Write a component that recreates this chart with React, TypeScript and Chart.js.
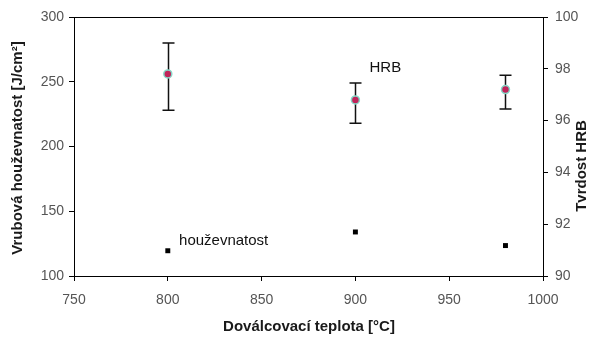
import React, { useEffect, useRef } from "react";
import { Chart, registerables } from "chart.js";

Chart.register(...registerables);

// Finishing (rolling end) temperature, °C
const temperatures = [800, 900, 980];
// Notch toughness, J/cm² (left axis)
const toughness = [119.5, 134, 123.5];
// Hardness HRB (right axis): mean with min / max
const hrbMean = [97.8, 96.8, 97.2];
const hrbLow = [96.4, 95.9, 96.45];
const hrbHigh = [99.0, 97.45, 97.75];

const xTicks = { min: 750, max: 1000, step: 50 };
const yTicks = { min: 100, max: 300, step: 50 };
const y1Ticks = { min: 90, max: 100, step: 2 };

const FONT = "'Liberation Sans', Arial, sans-serif";

const errorBars = {
  id: "errorBars",
  beforeDatasetsDraw(chart: any) {
    const { ctx } = chart;
    const x = chart.scales.x;
    const y1 = chart.scales.y1;
    ctx.save();
    ctx.strokeStyle = "#111";
    ctx.lineWidth = 1.5;
    temperatures.forEach((t, i) => {
      const px = Math.round(x.getPixelForValue(t)) + 0.5;
      const top = y1.getPixelForValue(hrbHigh[i]);
      const bot = y1.getPixelForValue(hrbLow[i]);
      ctx.beginPath();
      ctx.moveTo(px, top);
      ctx.lineTo(px, bot);
      ctx.moveTo(px - 6, top);
      ctx.lineTo(px + 6, top);
      ctx.moveTo(px - 6, bot);
      ctx.lineTo(px + 6, bot);
      ctx.stroke();
    });
    ctx.restore();
  },
};

const frameAndText = {
  id: "frameAndText",
  afterDraw(chart: any) {
    const { ctx, chartArea: a } = chart;
    ctx.save();
    // top edge of the plot frame
    ctx.strokeStyle = "#000";
    ctx.lineWidth = 1;
    ctx.beginPath();
    ctx.moveTo(a.left, Math.round(a.top) + 0.5);
    ctx.lineTo(a.right + 5, Math.round(a.top) + 0.5);
    ctx.stroke();

    // axis titles
    ctx.fillStyle = "#1a1a1a";
    ctx.font = `bold 15px ${FONT}`;
    ctx.textAlign = "center";
    ctx.textBaseline = "middle";
    ctx.fillText("Doválcovací teplota [°C]", 309, 327);

    ctx.save();
    ctx.translate(18, 148);
    ctx.rotate(-Math.PI / 2);
    ctx.fillText("Vrubová houževnatost [J/cm²]", 0, 0);
    ctx.restore();

    ctx.save();
    ctx.translate(582, 166);
    ctx.rotate(-Math.PI / 2);
    ctx.fillText("Tvrdost HRB", 0, 0);
    ctx.restore();

    // series labels
    ctx.font = `15px ${FONT}`;
    ctx.fillStyle = "#111";
    ctx.textAlign = "left";
    const x = chart.scales.x;
    ctx.fillText("HRB", x.getPixelForValue(907.5), chart.scales.y1.getPixelForValue(98.05));
    ctx.fillText("houževnatost", x.getPixelForValue(806), chart.scales.y.getPixelForValue(127));
    ctx.restore();
  },
};

export default function App() {
  const ref = useRef<HTMLCanvasElement>(null);

  useEffect(() => {
    document.body.style.margin = "0";
    const canvas = ref.current!;
    const tickFont = { family: FONT, size: 14 };
    const plain = (v: any) => String(v);
    const chart = new Chart(canvas, {
      type: "scatter",
      data: {
        datasets: [
          {
            label: "houževnatost",
            data: temperatures.map((t, i) => ({ x: t, y: toughness[i] })),
            yAxisID: "y",
            pointStyle: "rect",
            pointRadius: 3.5,
            backgroundColor: "#000",
            borderColor: "#000",
            borderWidth: 0,
          },
          {
            label: "HRB",
            data: temperatures.map((t, i) => ({ x: t, y: hrbMean[i] })),
            yAxisID: "y1",
            pointStyle: "circle",
            pointRadius: 4,
            backgroundColor: "#c0245a",
            borderColor: "#86d8c8",
            borderWidth: 1.5,
          },
        ],
      },
      options: {
        animation: false,
        responsive: false,
        devicePixelRatio: 1,
        layout: { padding: { top: 17, left: 0, right: 0, bottom: 0 } },
        plugins: { legend: { display: false }, tooltip: { enabled: false } },
        scales: {
          x: {
            type: "linear",
            min: xTicks.min,
            max: xTicks.max,
            afterFit: (s: any) => {
              s.height = 62;
            },
            ticks: { stepSize: xTicks.step, color: "#555", font: tickFont, padding: 11, maxRotation: 0, callback: plain },
            grid: { drawOnChartArea: false, drawTicks: true, tickLength: 5, color: "#000" },
            border: { display: true, color: "#000", width: 1 },
          },
          y: {
            type: "linear",
            position: "left",
            min: yTicks.min,
            max: yTicks.max,
            afterFit: (s: any) => {
              s.width = 74;
            },
            ticks: { stepSize: yTicks.step, color: "#555", font: tickFont, padding: 5, callback: plain },
            grid: { drawOnChartArea: false, drawTicks: true, tickLength: 5, color: "#000" },
            border: { display: true, color: "#000", width: 1 },
          },
          y1: {
            type: "linear",
            position: "right",
            min: y1Ticks.min,
            max: y1Ticks.max,
            afterFit: (s: any) => {
              s.width = 55;
            },
            ticks: { stepSize: y1Ticks.step, color: "#555", font: tickFont, padding: 7, callback: plain },
            grid: { drawOnChartArea: false, drawTicks: true, tickLength: 5, color: "#000" },
            border: { display: true, color: "#000", width: 1 },
          },
        },
      },
      plugins: [errorBars, frameAndText],
    });
    return () => chart.destroy();
  }, []);

  return (
    <div style={{ position: "absolute", left: 0, top: 0, width: 598, height: 338, background: "#fff" }}>
      <canvas ref={ref} width={598} height={338} />
    </div>
  );
}
